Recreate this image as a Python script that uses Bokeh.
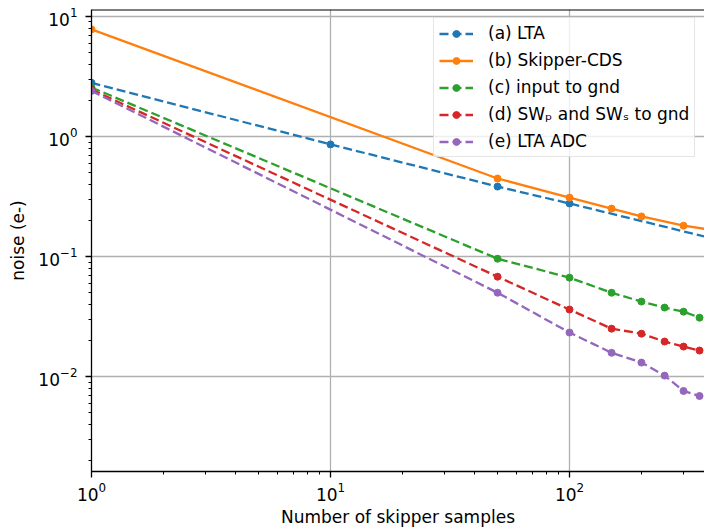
from bokeh.plotting import figure
from bokeh.models import Legend, LegendItem, Span
from bokeh.embed import file_html
from bokeh.resources import INLINE

# ---- data ----
x_lta = [1, 10, 50, 100, 400]
y_lta = [2.8, 0.86, 0.383, 0.277, 0.141]

x_cds = [1, 50, 100, 150, 200, 300, 400]
y_cds = [7.8, 0.447, 0.31, 0.251, 0.216, 0.181, 0.166]

x_gnd = [1, 50, 100, 150, 200, 250, 300, 350]
y_gnd = [2.56, 0.096, 0.0668, 0.050, 0.0422, 0.0376, 0.0348, 0.031]

x_sw = [1, 50, 100, 150, 200, 250, 300, 350]
y_sw = [2.46, 0.068, 0.0362, 0.0251, 0.0228, 0.0196, 0.0178, 0.0165]

x_adc = [1, 50, 100, 150, 200, 250, 300, 350]
y_adc = [2.4, 0.050, 0.0233, 0.0158, 0.0131, 0.0102, 0.0076, 0.0069]

labels = ["(a) LTA", "(b) Skipper-CDS", "(c) input to gnd",
          "(d) SW\u209a and SW\u209b to gnd", "(e) LTA ADC"]
colors = ["#1f77b4", "#ff7f0e", "#2ca02c", "#d62728", "#9467bd"]
dashes = ["9 4", "solid", "9 4", "9 4", "9 4"]
series = [(x_lta, y_lta), (x_cds, y_cds), (x_gnd, y_gnd), (x_sw, y_sw), (x_adc, y_adc)]

W, H = 704, 530
LEFT, TOP, BOTTOM = 91, 9, 59
X_END = 10 ** ((W - LEFT) / 239.0)
Y_START = 10 ** (-2.79)
Y_END = 10 ** (1.058)

FONT = "DejaVu Sans"
FS = "17px"

p = figure(width=W, height=H, x_axis_type="log", y_axis_type="log",
           x_range=(1, X_END), y_range=(Y_START, Y_END),
           output_backend="svg", toolbar_location=None,
           min_border_left=LEFT, min_border_right=0, min_border_top=TOP,
           min_border_bottom=BOTTOM)
p.outline_line_color = None
p.background_fill_color = "white"
p.border_fill_color = "white"

p.grid.grid_line_color = "#b0b0b0"
p.grid.grid_line_width = 1.3

for ax in (p.xaxis[0], p.yaxis[0]):
    ax.axis_line_color = "black"
    ax.axis_line_width = 1.3
    ax.major_tick_line_color = "black"
    ax.major_tick_line_width = 1.3
    ax.minor_tick_line_color = "black"
    ax.minor_tick_line_width = 1
    ax.major_tick_in = 0
    ax.major_tick_out = 6
    ax.minor_tick_in = 0
    ax.minor_tick_out = 3
    ax.major_label_text_font = FONT
    ax.major_label_text_font_size = FS
    ax.major_label_text_color = "black"
    ax.axis_label_text_font = FONT
    ax.axis_label_text_font_size = FS
    ax.axis_label_text_font_style = "normal"
    ax.axis_label_text_color = "black"

p.xaxis.axis_label = "Number of skipper samples"
p.yaxis.axis_label = "noise (e-)"
p.xaxis.major_label_standoff = 4
p.xaxis.axis_label_standoff = 3
p.yaxis.major_label_standoff = 8
p.yaxis.axis_label_standoff = 7

p.add_layout(Span(location=Y_END, dimension="width", line_color="black", line_width=2))

items = []
for (xs, ys), lab, col, dash in zip(series, labels, colors, dashes):
    rl = p.line(xs, ys, line_color=col, line_width=2.3, line_dash=dash)
    rs = p.scatter(xs, ys, size=7, fill_color=col, line_color=col)
    items.append(LegendItem(label=lab, renderers=[rl, rs]))

legend = Legend(items=items, location=(342, 314))
legend.label_text_font = FONT
legend.label_text_font_size = FS
legend.label_text_color = "black"
legend.glyph_width = 34
legend.glyph_height = 17
legend.label_height = 20
legend.label_standoff = 15
legend.spacing = 7
legend.padding = 5
legend.border_line_color = "#cccccc"
legend.border_line_width = 1
legend.background_fill_alpha = 0.8
p.add_layout(legend)

open("out.html", "w").write(file_html(p, INLINE))
